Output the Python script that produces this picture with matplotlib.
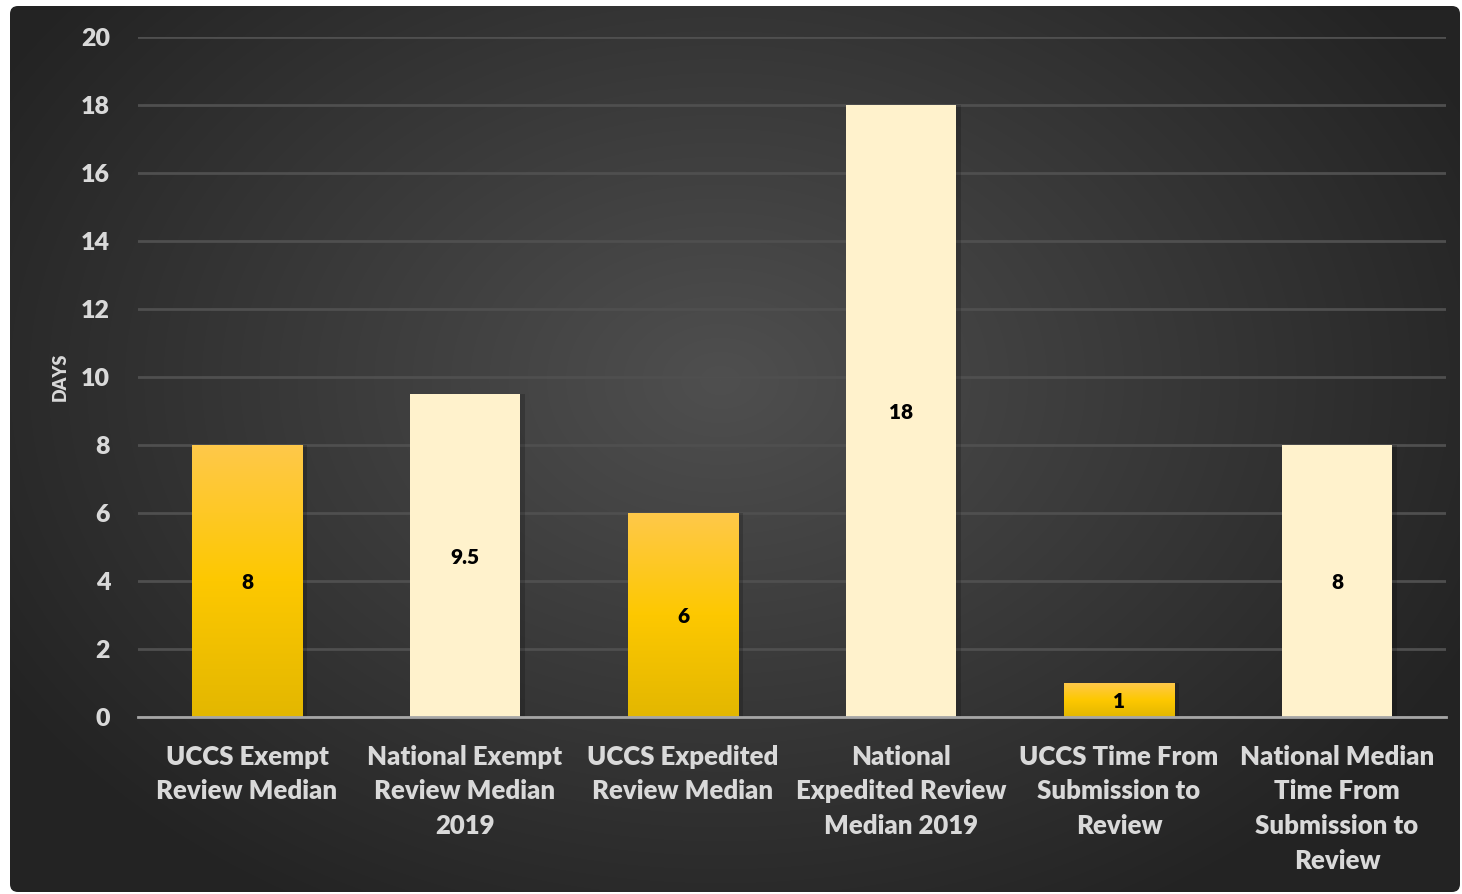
import numpy as np
import matplotlib.pyplot as plt
from matplotlib.patches import FancyBboxPatch
from matplotlib.colors import LinearSegmentedColormap

categories = [
    "UCCS Exempt\nReview Median",
    "National Exempt\nReview Median\n2019",
    "UCCS Expedited\nReview Median",
    "National\nExpedited Review\nMedian 2019",
    "UCCS Time From\nSubmission to\nReview",
    "National Median\nTime From\nSubmission to\nReview",
]
days = [8, 9.5, 6, 18, 1, 8]
value_labels = ["8", "9.5", "6", "18", "1", "8"]
is_uccs = [True, False, True, False, True, False]
y_ticks = [0, 2, 4, 6, 8, 10, 12, 14, 16, 18, 20]

plt.rcParams['font.family'] = ['Lato', 'DejaVu Sans']
W = 800  # text weight

fig = plt.figure(figsize=(14.62, 8.94), dpi=100)
fig.patch.set_facecolor('white')

# Dark background panel with radial gradient
bg = fig.add_axes([0, 0, 1, 1], zorder=0)
bg.set_xlim(0, 1462)
bg.set_ylim(894, 0)
bg.axis('off')
yy, xx = np.mgrid[0:894, 0:1462]
r = np.sqrt(((xx - 720) / 880.0) ** 2 + ((yy - 380) / 640.0) ** 2)
shade = np.clip(0.31 - 0.18 * r, 0.14, 0.31)
img = bg.imshow(np.dstack([shade, shade, shade]), extent=[0, 1462, 894, 0], zorder=0)
panel = FancyBboxPatch((10, 6), 1450, 886, boxstyle="round,pad=0,rounding_size=8",
                       transform=bg.transData, facecolor='none', edgecolor='none')
bg.add_patch(panel)
img.set_clip_path(panel)

ax = fig.add_axes([138 / 1462, 177 / 894, 1308 / 1462, 680 / 894], zorder=1)
ax.patch.set_alpha(0)

x = np.arange(len(categories))
width = 0.505
bars = ax.bar(x, days, width=width, color='none', zorder=3)

gold = LinearSegmentedColormap.from_list('gold', ['#e3b700', '#fdc800', '#ffc94a'])
for bar, uccs in zip(bars, is_uccs):
    bx, by = bar.get_x(), bar.get_y()
    bw, bh = bar.get_width(), bar.get_height()
    # soft shadow
    ax.bar(bx + bw / 2 + 0.012, bh, width=bw + 0.02, color='black', alpha=0.18, zorder=2)
    if uccs:
        grad = np.linspace(0, 1, 256).reshape(-1, 1)
        im = ax.imshow(grad, cmap=gold, aspect='auto', origin='lower',
                       extent=[bx, bx + bw, by, by + bh], zorder=3)
        im.set_clip_path(bar)
    else:
        bar.set_facecolor('#fff2cc')

for xi, v, lab in zip(x, days, value_labels):
    ax.text(xi, v / 2, lab, ha='center', va='center_baseline', fontsize=15,
            fontweight=W, color='black', zorder=5)

ax.set_xlim(-0.5, len(categories) - 0.5)
ax.set_ylim(0, 20)
ax.set_yticks(y_ticks)
ax.set_yticklabels([str(t) for t in y_ticks])
ax.set_xticks(x)
ax.set_xticklabels(categories, linespacing=1.53)
ax.grid(axis='y', color='#4f4f4f', linewidth=2, zorder=1)
ax.set_axisbelow(True)
for s in ['top', 'right', 'left']:
    ax.spines[s].set_visible(False)
ax.spines['bottom'].set_color('#a6a6a6')
ax.spines['bottom'].set_linewidth(2)
ax.spines['bottom'].set_zorder(4)
ax.tick_params(axis='y', length=0, pad=20, labelsize=18, labelcolor='#d9d9d9')
ax.tick_params(axis='x', length=0, pad=20, labelsize=18.5, labelcolor='#d9d9d9')
for t in ax.get_xticklabels() + ax.get_yticklabels():
    t.set_fontweight(W)

fig.text(60 / 1462, 1 - 377 / 894, "DAYS", rotation=90, ha='center', va='center',
         fontsize=13, fontweight=W, color='#d9d9d9')

fig.savefig('out.png', dpi=100)
